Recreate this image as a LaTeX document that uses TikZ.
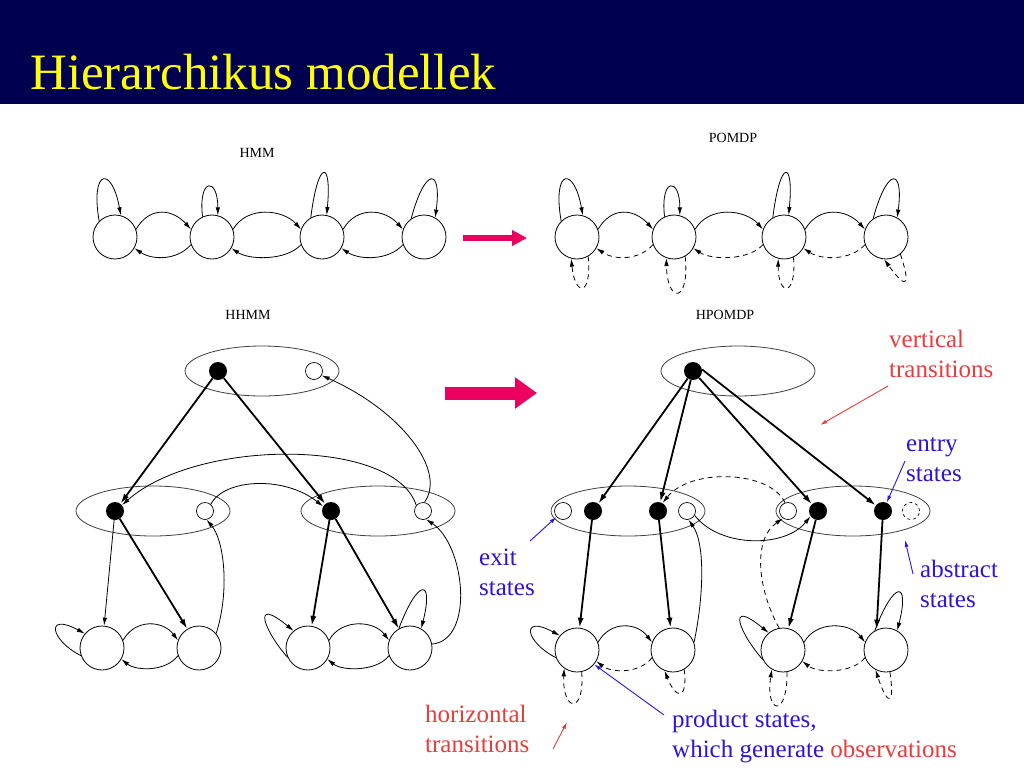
\documentclass[tikz,border=0pt]{standalone}
\usepackage{fontspec}
\setmainfont{Liberation Serif}
\usetikzlibrary{arrows.meta,shapes.geometric}
\definecolor{barblue}{RGB}{0,0,80}
\definecolor{titleyellow}{RGB}{255,255,0}
\definecolor{notered}{RGB}{235,60,60}
\definecolor{noteblue}{RGB}{45,20,215}
\definecolor{hotpink}{RGB}{235,0,95}
\tikzset{
  chainst/.style={circle, draw, line width=0.8pt, minimum size=44pt, inner sep=0pt},
  fullst/.style={circle, fill, minimum size=18pt, inner sep=0pt},
  emptyst/.style={circle, draw, line width=0.7pt, minimum size=17pt, inner sep=0pt},
  absbox/.style={ellipse, draw=black!75, line width=0.8pt, minimum width=154pt, minimum height=50pt, inner sep=0pt},
  hor/.style={-{Latex[length=8pt,width=4.5pt]}, line width=0.8pt},
  obs/.style={hor, dash pattern=on 5pt off 4pt},
  vert/.style={-{Latex[length=10pt,width=6pt]}, line width=1.8pt},
  annot/.style={font=\fontsize{25}{30}\selectfont, align=left, anchor=base west, inner sep=0pt},
  pointer/.style={-{Latex[length=7pt,width=4pt]}, line width=0.9pt},
  model/.style={font=\fontsize{14}{16}\selectfont}
}
\begin{document}
\begin{tikzpicture}[x=1pt, y=-1pt, line join=round]
\useasboundingbox (0,0) rectangle (1024,768);
\fill[white] (0,0) rectangle (1024,768);
\fill[barblue] (0,0) rectangle (1024,104);
\node[font=\fontsize{51}{60}\selectfont, text=titleyellow, anchor=base west, inner sep=0pt] (title) at (30,89) {Hierarchikus modellek};

% flat models
\node[model] (hmmlbl) at (257,153) {HMM};
\node[model] (pomdplbl) at (733,138) {POMDP};
\foreach \m/\dx/\bk in {h/0/hor, p/462/obs}{
  \begin{scope}[xshift=\dx pt]
    \node[chainst] (\m1) at (115,237) {};
    \node[chainst] (\m2) at (212,237) {};
    \node[chainst] (\m3) at (322,237) {};
    \node[chainst] (\m4) at (424,237) {};
    \foreach \a/\b in {1/2,2/3,3/4}{
      \draw[hor] (\m\a.20) .. controls +(14,-24) and +(-18,-20) .. (\m\b.160);
      \draw[\bk] (\m\b.200) .. controls +(-14,16) and +(18,12) .. (\m\a.-30);
    }
    \draw[hor] (\m1.135) .. controls (90,168) and (112,166) .. (\m1.75);
    \draw[hor] (\m2.115) .. controls (198,177) and (218,177) .. (\m2.75);
    \draw[hor] (\m3.120) .. controls (318,159) and (332,159) .. (\m3.78);
    \draw[hor] (\m4.125) .. controls (425,167) and (442,167) .. (\m4.60);
  \end{scope}
}
% observations
\draw[obs] (p1.-60) .. controls (592,297) and (575,297) .. (p1.-105);
\draw[obs] (p2.-60) .. controls (690,304) and (667,304) .. (p2.-110);
\draw[obs] (p3.-65) .. controls (797,297) and (778,297) .. (p3.-105);
\draw[obs] (p4.-50) .. controls (909,280) and (910,295) .. (p4.-95);

\draw[hotpink, line width=6pt, -{Triangle[length=15pt,width=15pt]}] (463,238) -- (527,238);
\draw[hotpink, line width=13pt, -{Triangle[length=22pt,width=30pt]}] (445,393) -- (537,393);

% HHMM
\node[model] (hhmmlbl) at (248,315) {HHMM};
\node[absbox] (hhtop) at (262,371) {};
\node[fullst] (hhroot) at (218,371) {};
\node[emptyst] (hhend) at (314,371) {};
\node[absbox] (hhleft) at (153,511) {};
\node[fullst] (hhlin) at (115,511) {};
\node[emptyst] (hhlout) at (205,511) {};
\node[absbox] (hhright) at (378,511) {};
\node[fullst] (hhrin) at (331,511) {};
\node[emptyst] (hhrout) at (423,511) {};
\node[chainst] (hhl1) at (102,648) {};
\node[chainst] (hhl2) at (199,648) {};
\node[chainst] (hhr1) at (308,648) {};
\node[chainst] (hhr2) at (410,648) {};

\draw[vert] (hhroot) -- (hhlin);
\draw[vert] (hhroot) -- (hhrin);
\draw[hor] (hhlin) -- (hhl1);
\draw[vert] (hhlin) -- (hhl2);
\draw[vert] (hhrin) -- (hhr1);
\draw[vert] (hhrin) -- (hhr2);
\draw[hor] (hhl2.40) .. controls (230,590) and (224,540) .. (hhlout.-80);
\draw[hor] (hhr2.10) .. controls (475,640) and (465,545) .. (hhrout.-70);
\draw[hor] (hhrout.80) .. controls (447,470) and (400,410) .. (hhend.-30);
\draw[hor] (hhrout.140) .. controls (395,438) and (198,438) .. (hhlin.40);
\draw[hor] (hhlout.50) .. controls (225,478) and (285,476) .. (hhrin.150);
\draw[hor] (hhl1.20) .. controls +(12,-22) and +(-15,-20) .. (hhl2.160);
\draw[hor] (hhl2.200) .. controls +(-12,16) and +(15,12) .. (hhl1.-30);
\draw[hor] (hhr1.20) .. controls +(12,-22) and +(-15,-20) .. (hhr2.160);
\draw[hor] (hhr2.200) .. controls +(-12,16) and +(15,12) .. (hhr1.-30);
\draw[hor] (hhl1.200) .. controls (50,640) and (45,612) .. (hhl1.140);
\draw[hor] (hhr1.205) .. controls (265,632) and (250,595) .. (hhr1.130);
\draw[hor] (hhr2.120) .. controls (418,578) and (434,578) .. (hhr2.60);

% HPOMDP
\node[model] (hpomdplbl) at (725,315) {HPOMDP};
\node[absbox] (hptop) at (738,371) {};
\node[fullst] (hproot) at (693,371) {};
\node[absbox] (hpleft) at (628,511) {};
\node[emptyst] (hplx) at (563,511) {};
\node[fullst] (hpla) at (593,511) {};
\node[fullst] (hplb) at (658,511) {};
\node[emptyst] (hply) at (687,511) {};
\node[absbox] (hpright) at (853,511) {};
\node[emptyst] (hprx) at (788,511) {};
\node[fullst] (hpra) at (818,511) {};
\node[fullst] (hprb) at (883,511) {};
\node[emptyst, dashed] (hpry) at (911,511) {};
\node[chainst] (hpl1) at (577,650) {};
\node[chainst] (hpl2) at (673,650) {};
\node[chainst] (hpr1) at (783,650) {};
\node[chainst] (hpr2) at (886,650) {};

\draw[vert] (hproot) -- (hpla);
\draw[vert] (hproot) -- (hplb);
\draw[vert] (hproot) -- (hpra);
\draw[vert] (hproot.10) -- (hprb);
\draw[vert] (hpla) -- (hpl1);
\draw[vert] (hplb) -- (hpl2);
\draw[vert] (hpra) -- (hpr1);
\draw[vert] (hprb) -- (hpr2.115);
\draw[hor] (hpl2.20) .. controls (703,600) and (706,545) .. (hply.-80);
\draw[obs] (hpr1.100) .. controls (758,590) and (752,540) .. (hprx.-125);
\draw[obs] (hprx.110) .. controls (770,470) and (690,468) .. (hplb.60);
\draw[hor] (hply.-30) .. controls (720,548) and (785,548) .. (hpra.-145);
\draw[hor] (hpl1.20) .. controls +(12,-22) and +(-15,-20) .. (hpl2.160);
\draw[obs] (hpl2.200) .. controls +(-12,16) and +(15,12) .. (hpl1.-30);
\draw[hor] (hpr1.20) .. controls +(12,-22) and +(-15,-20) .. (hpr2.160);
\draw[obs] (hpr2.200) .. controls +(-12,16) and +(15,12) .. (hpr1.-30);
\draw[hor] (hpl1.200) .. controls (525,642) and (520,614) .. (hpl1.140);
\draw[hor] (hpr1.205) .. controls (740,634) and (725,597) .. (hpr1.130);
\draw[hor] (hpr2.120) .. controls (894,580) and (910,580) .. (hpr2.60);
\draw[obs] (hpl1.-78) .. controls (585,715) and (562,712) .. (hpl1.-125);
\draw[obs] (hpl2.-60) .. controls (688,700) and (676,700) .. (hpl2.-112);
\draw[obs] (hpr1.-80) .. controls (788,718) and (765,715) .. (hpr1.-120);
\draw[obs] (hpr2.-80) .. controls (895,705) and (888,708) .. (hpr2.-118);

% notes (base = last line)
\node[annot, text=notered] (vtlbl) at (889,377) {vertical\\transitions};
\node[annot, text=noteblue] (enlbl) at (906,481) {entry\\states};
\node[annot, text=noteblue] (ablbl) at (920,607) {abstract\\states};
\node[annot, text=noteblue] (exlbl) at (479,595) {exit\\states};
\node[annot, text=notered] (htlbl) at (425,752) {horizontal\\transitions};
\node[annot, text=noteblue] (pdlbl) at (672,757) {product states,\\which generate \textcolor{notered}{observations}};
\coordinate (vtfrom) at (888,386);
\coordinate (vtto) at (820,425);
\coordinate (enfrom) at (905,461);
\coordinate (abfrom) at (913,574);
\coordinate (abto) at (905,540);
\coordinate (exfrom) at (530,541);
\coordinate (htfrom) at (553,749);
\coordinate (htto) at (567,722);
\coordinate (pdfrom) at (664,715);
\draw[pointer, notered] (vtfrom) -- (vtto);
\draw[pointer, noteblue] (enfrom) -- (hprb);
\draw[pointer, noteblue] (abfrom) -- (abto);
\draw[pointer, noteblue] (exfrom) -- (hplx);
\draw[pointer, notered] (htfrom) -- (htto);
\draw[pointer, noteblue] (pdfrom) -- (hpl1.-40);
\end{tikzpicture}
\end{document}
